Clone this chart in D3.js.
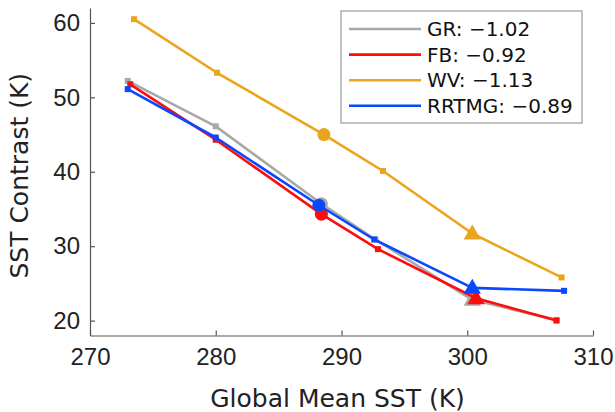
<!DOCTYPE html>
<html>
<head>
<meta charset="utf-8">
<script src="https://cdn.jsdelivr.net/npm/d3@7"></script>
<style>
  html, body { margin: 0; padding: 0; background: #fff; }
  svg { display: block; font-family: "DejaVu Sans", "Open Sans", sans-serif; }
</style>
</head>
<body>
<svg id="chart" width="615" height="412"></svg>
<script>
// Global mean SST (K) for each experiment, and the resulting SST contrast (K)
const grSST   = [273.0, 280.0, 288.4, 292.7, 300.4, 307.1];
const grCon   = [52.2, 46.1, 35.7, 30.9, 22.8, 20.1];
const fbSST   = [273.2, 280.0, 288.4, 292.9, 300.7, 307.1];
const fbCon   = [51.75, 44.3, 34.3, 29.6, 23.0, 20.0];
const wvSST   = [273.5, 280.1, 288.6, 293.3, 300.4, 307.5];
const wvCon   = [60.5, 53.3, 45.0, 40.1, 31.7, 25.8];
const rrSST   = [273.0, 280.0, 288.2, 292.6, 300.4, 307.7];
const rrCon   = [51.1, 44.6, 35.5, 30.9, 24.4, 24.0];

const seriesNames  = ["GR", "FB", "WV", "RRTMG"];
const seriesSlopes = ["−1.02", "−0.92", "−1.13", "−0.89"];
const seriesColors = ["#a8a8a8", "#ff0d0d", "#eba51c", "#0a48ff"];

// marker shape per experiment index: square, square, circle, square, triangle, square
const markerKinds = ["square", "square", "circle", "square", "triangle", "square"];

const xTicks = [270, 280, 290, 300, 310];
const yTicks = [20, 30, 40, 50, 60];

const series = [
  { x: grSST, y: grCon },
  { x: fbSST, y: fbCon },
  { x: wvSST, y: wvCon },
  { x: rrSST, y: rrCon }
].map((s, i) => ({ ...s, name: seriesNames[i], slope: seriesSlopes[i], color: seriesColors[i] }));

const svg = d3.select("#chart");
const plotL = 90, plotR = 593, plotT = 8, plotB = 335.5;

const x = d3.scaleLinear().domain([270, 310]).range([plotL, plotR]);
const y = d3.scaleLinear().domain([18, 62]).range([plotB, plotT]);

const axisColor = "#555";

// x axis (ticks pointing inward)
const gx = svg.append("g").attr("transform", `translate(0,${plotB})`)
  .call(d3.axisBottom(x).tickValues(xTicks).tickSizeInner(-5).tickSizeOuter(0).tickPadding(12));
gx.select(".domain").attr("stroke", axisColor).attr("stroke-width", 1.2);
gx.selectAll(".tick line").attr("stroke", axisColor).attr("stroke-width", 1.2);
gx.selectAll(".tick text").attr("font-size", 24).attr("fill", "#222");

// y axis
const gy = svg.append("g").attr("transform", `translate(${plotL},0)`)
  .call(d3.axisLeft(y).tickValues(yTicks).tickSizeInner(-5).tickSizeOuter(0).tickPadding(10));
gy.select(".domain").attr("stroke", axisColor).attr("stroke-width", 1.2);
gy.selectAll(".tick line").attr("stroke", axisColor).attr("stroke-width", 1.2);
gy.selectAll(".tick text").attr("font-size", 24).attr("fill", "#222");

// axis titles
svg.append("text")
  .attr("x", (plotL + plotR) / 2 - 4).attr("y", 407)
  .attr("text-anchor", "middle").attr("font-size", 25).attr("fill", "#222")
  .text("Global Mean SST (K)");
svg.append("text")
  .attr("transform", `translate(28,${(plotT + plotB) / 2 + 4}) rotate(-90)`)
  .attr("text-anchor", "middle").attr("font-size", 25).attr("fill", "#222")
  .text("SST Contrast (K)");

// lines and markers
const line = d3.line().x(d => x(d[0])).y(d => y(d[1]));
const tri = d3.symbol().type(d3.symbolTriangle).size(130);

series.forEach(s => {
  const pts = s.x.map((v, i) => [v, s.y[i]]);
  const g = svg.append("g");
  g.append("path").datum(pts)
    .attr("d", line)
    .attr("fill", "none")
    .attr("stroke", s.color)
    .attr("stroke-width", 2.6)
    .attr("stroke-linejoin", "round");
  pts.forEach((p, i) => {
    const kind = markerKinds[i];
    const cx = x(p[0]), cy = y(p[1]);
    if (kind === "square") {
      g.append("rect").attr("x", cx - 3).attr("y", cy - 3).attr("width", 6).attr("height", 6)
        .attr("fill", s.color);
    } else if (kind === "circle") {
      g.append("circle").attr("cx", cx).attr("cy", cy).attr("r", 6.5).attr("fill", s.color);
    } else {
      g.append("path").attr("d", tri).attr("transform", `translate(${cx},${cy + 1})`)
        .attr("fill", s.color);
    }
  });
});

// legend
const lg = svg.append("g");
const lgX = 341, lgY = 11, lgW = 241, lgH = 112;
lg.append("rect").attr("x", lgX).attr("y", lgY).attr("width", lgW).attr("height", lgH)
  .attr("fill", "#fff").attr("stroke", "#9a9a9a").attr("stroke-width", 1.2);
series.forEach((s, i) => {
  const ry = lgY + 18 + i * 25.6;
  lg.append("line").attr("x1", lgX + 8).attr("x2", lgX + 80).attr("y1", ry).attr("y2", ry)
    .attr("stroke", s.color).attr("stroke-width", 2.6);
  lg.append("text").attr("x", lgX + 86).attr("y", ry).attr("dy", "0.36em")
    .attr("font-size", 20).attr("fill", "#111")
    .text(`${s.name}: ${s.slope}`);
});
</script>
</body>
</html>
